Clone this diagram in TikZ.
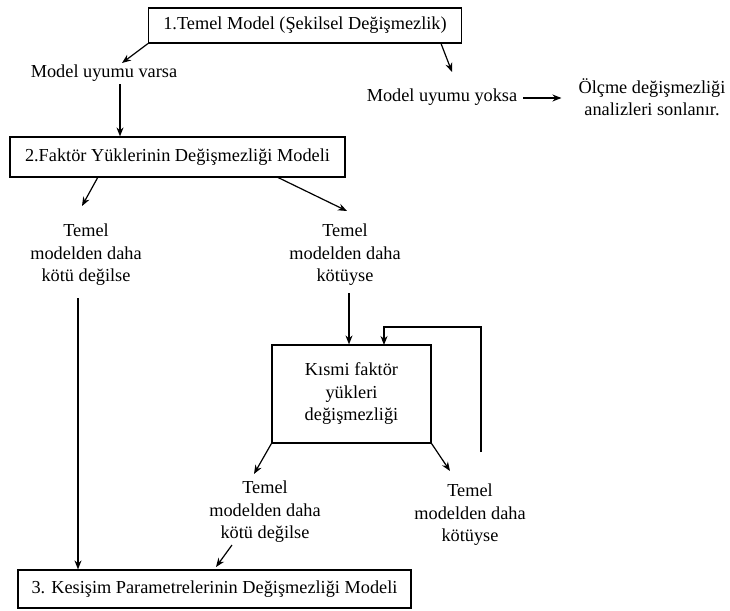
\documentclass[tikz,border=0pt]{standalone}
\usepackage{fontspec}
\setmainfont{Liberation Serif}
\usetikzlibrary{arrows.meta}
\begin{document}
\begin{tikzpicture}[x=1pt,y=-1pt,
  txt/.style={font=\fontsize{18.3}{22.5}\selectfont, align=center, inner sep=0pt},
  boxn/.style={txt, draw, line width=1.2pt},
  arr/.style={line width=1.2pt, -{Stealth[length=9pt,width=7pt]}},
  ln/.style={line width=1.2pt}]
\useasboundingbox (0,0) rectangle (730,610);
\node[boxn, minimum width=313pt, minimum height=35pt] (b1) at (305,25.5) {1.Temel Model (Şekilsel Değişmezlik)};
\node[txt] (tvarsa) at (104,73) {Model uyumu varsa};
\node[txt] (tyoksa) at (442,97) {Model uyumu yoksa};
\node[txt] (tolcme) at (652,97) {Ölçme değişmezliği\\analizleri sonlanır.};
\node[boxn, minimum width=335pt, minimum height=40pt] (b2) at (177.5,157) {2.Faktör Yüklerinin Değişmezliği Modeli};
\node[txt] (t1) at (86,255) {Temel\\modelden daha\\kötü değilse};
\node[txt] (t2) at (345,255) {Temel\\modelden daha\\kötüyse};
\node[boxn, minimum width=159pt, minimum height=98pt] (b4) at (351.5,394) {Kısmi faktör\\yükleri\\değişmezliği};
\node[txt] (t3) at (265,512) {Temel\\modelden daha\\kötü değilse};
\node[txt] (t4) at (470,515) {Temel\\modelden daha\\kötüyse};
\node[boxn, minimum width=393pt, minimum height=38pt] (b3) at (214.5,589) {3. Kesişim Parametrelerinin Değişmezliği Modeli};
% coordinates
\coordinate (c1) at (122,63);
\coordinate (c2s) at (441,43.5);
\coordinate (c2) at (452,72);
\coordinate (c3) at (120,84);
\coordinate (c4s) at (98,177);
\coordinate (c4) at (82,206);
\coordinate (c5s) at (277,177);
\coordinate (c5) at (347,211);
\coordinate (c6) at (78,298);
\coordinate (c7) at (349,293);
\coordinate (c8) at (254,474);
\coordinate (c9) at (450,471);
\coordinate (fb) at (481,452);
\coordinate (fbin) at (384,345);
\coordinate (c10s) at (232,545);
\coordinate (c10) at (216,567);
% connectors
\draw[arr] (b1.south west) -- (c1);
\draw[arr] (c2s) -- (c2);
\draw[arr] (tyoksa.east) ++(6,1) -- ++(38,0);
\draw[arr] (c3) -- (c3 |- b2.north);
\draw[arr] (c4s) -- (c4);
\draw[arr] (c5s) -- (c5);
\draw[arr] (c6) -- (c6 |- b3.north);
\draw[arr] (c7) -- (c7 |- b4.north);
\draw[arr] (fb) |- (481,327) -| (fbin);
\draw[arr] (b4.south west) -- (c8);
\draw[arr] (b4.south east) -- (c9);
\draw[arr] (c10s) -- (c10);
\end{tikzpicture}
\end{document}
